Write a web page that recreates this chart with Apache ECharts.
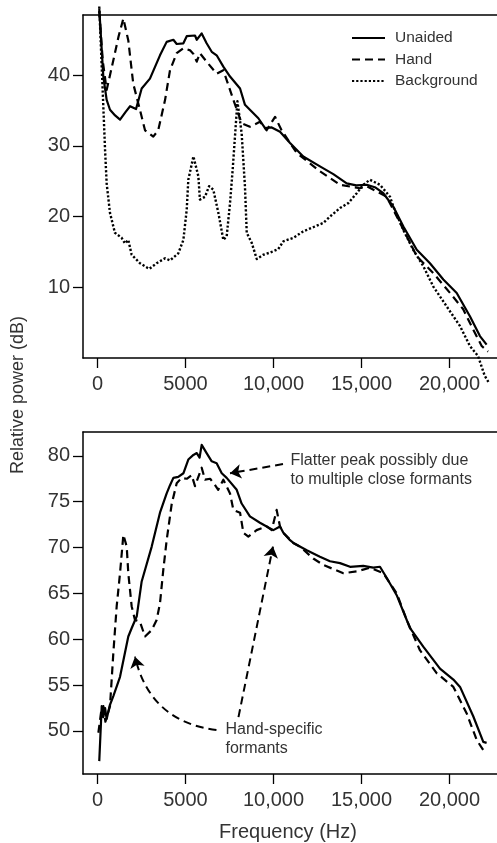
<!DOCTYPE html>
<html>
<head>
<meta charset="utf-8">
<script src="https://cdn.jsdelivr.net/npm/echarts@6/dist/echarts.min.js"></script>
<style>
html,body{margin:0;padding:0;background:#fff;}
#chart{width:497px;height:843px;}
</style>
</head>
<body>
<div id="chart"></div>
<script>
// ---- data (frequency Hz, relative power dB) ----
const seriesNames = ['Unaided', 'Hand', 'Background'];
const freqTicks = [0, 5000, 10000, 15000, 20000];
const topPowerTicks = [10, 20, 30, 40];
const bottomPowerTicks = [50, 55, 60, 65, 70, 75, 80];

const topUnaided = [[100,49.4],[330,39.8],[520,36.5],[710,35.1],[1000,34.3],[1280,33.7],[1600,34.8],[1850,35.6],[2190,35.2],[2510,38.1],[2980,39.5],[3550,42.8],[3930,44.7],[4310,45.0],[4500,44.4],[4880,44.5],[5070,45.5],[5540,45.6],[5640,45.0],[5920,45.9],[6200,44.5],[6490,43.3],[6770,42.8],[7150,41.2],[7530,39.8],[8100,38.1],[8380,35.8],[8660,35.1],[9140,33.9],[9520,32.5],[9900,32.6],[10370,32.0],[10940,30.4],[11690,28.5],[12640,27.1],[13400,26.0],[14160,24.7],[14700,24.4],[15300,24.5],[15800,24.1],[16240,23.3],[16810,21.4],[17380,18.6],[18140,15.3],[18890,13.4],[19650,11.1],[20410,9.2],[21160,5.9],[21730,3.1],[22110,1.9]];
const topHand = [[100,49.0],[300,42.0],[520,37.9],[900,42.1],[1200,45.5],[1470,48.0],[1750,44.9],[2030,38.8],[2410,35.1],[2700,32.2],[3170,31.3],[3450,32.2],[3840,36.5],[4120,40.7],[4500,43.1],[4880,43.8],[5260,43.5],[5450,43.0],[5640,41.9],[5820,43.1],[6200,41.9],[6770,40.2],[7150,40.7],[7340,39.3],[7720,36.5],[8190,33.2],[8660,32.7],[9230,33.4],[9610,32.2],[10090,34.1],[10460,32.2],[11320,29.0],[12640,26.4],[13780,24.5],[14910,24.0],[15300,24.3],[16430,22.8],[17190,19.1],[18140,14.4],[19080,12.0],[20030,9.2],[20780,6.9],[21350,4.0],[21830,1.7],[22190,0.9]];
const topBackground = [[100,49.7],[240,41.2],[430,29.4],[520,24.7],[710,20.5],[990,17.7],[1370,17.0],[1560,16.2],[1750,16.7],[1940,14.6],[2410,13.4],[2940,12.6],[3360,13.4],[3840,14.1],[4120,13.8],[4590,14.8],[4880,16.7],[5070,21.0],[5160,25.2],[5450,28.5],[5730,25.7],[5820,22.4],[6110,22.8],[6340,24.3],[6580,23.8],[6870,20.5],[7150,16.7],[7340,17.2],[7530,21.9],[7680,26.6],[7950,36.3],[8190,31.8],[8380,24.2],[8480,17.7],[8760,16.3],[9050,14.0],[9420,14.6],[9800,14.9],[10270,15.4],[10560,16.5],[11130,17.0],[11690,17.9],[12830,19.1],[13210,20.0],[13780,21.2],[14250,21.9],[14730,23.3],[15100,24.5],[15480,25.2],[16050,24.5],[16620,22.8],[16810,21.4],[17380,18.1],[17940,15.3],[18510,13.0],[19080,10.1],[19840,7.3],[20600,4.5],[21160,1.7],[21620,0.3],[22000,-2.5],[22240,-3.5]];

const bottomUnaided = [[100,46.7],[200,51.0],[240,52.7],[330,51.5],[430,52.5],[520,51.3],[700,52.8],[900,53.8],[1280,55.9],[1750,60.3],[1940,61.2],[2230,62.5],[2510,66.3],[3080,70.1],[3550,73.8],[3930,75.9],[4120,76.8],[4310,77.6],[4590,77.7],[4880,78.1],[5160,79.6],[5450,80.1],[5640,80.3],[5800,79.8],[5920,81.2],[6200,80.3],[6490,79.4],[6770,79.2],[7060,78.1],[7340,77.6],[7910,76.3],[8190,74.8],[8660,73.4],[9230,72.7],[9610,72.3],[9990,71.9],[10370,72.3],[10560,71.6],[10940,70.8],[11130,70.5],[11890,69.7],[12640,69.0],[13210,68.5],[13780,68.3],[14350,67.9],[15100,68.0],[15670,67.8],[16050,67.9],[16430,66.7],[17000,64.8],[17760,61.2],[18510,59.2],[19460,56.8],[20220,55.6],[20600,54.8],[21350,51.6],[21920,48.8],[22110,48.7]];
const bottomHand = [[50,49.8],[200,52.0],[330,52.7],[450,51.0],[710,52.7],[900,58.5],[1090,63.6],[1280,67.2],[1470,71.4],[1660,70.1],[1750,67.2],[1940,63.6],[2130,62.1],[2410,61.9],[2700,60.3],[3080,61.0],[3360,62.1],[3550,63.9],[3740,67.6],[3930,70.8],[4220,74.8],[4500,77.0],[4780,77.6],[5070,77.5],[5350,77.9],[5540,76.7],[5730,77.7],[5920,78.7],[6110,77.4],[6400,77.5],[6680,76.8],[6860,76.3],[7150,77.4],[7530,75.9],[7720,74.1],[8100,73.8],[8290,71.6],[8570,71.2],[9040,71.9],[9610,72.3],[9900,71.9],[10180,74.1],[10370,72.3],[10560,71.6],[11130,70.5],[11500,70.1],[12260,68.8],[12830,68.1],[13970,67.2],[14730,67.4],[15480,67.8],[16240,67.2],[17000,65.0],[17570,62.1],[18320,58.8],[19270,56.3],[20220,54.8],[20980,51.9],[21550,49.0],[21920,47.9]];

// annotation arrows (data coordinates of bottom panel): [from, to, curveness]
const annotationArrows = [
  [[10540, 79.1], [7530, 78.1], 0],
  [[8010, 51.5], [9970, 70.1], 0],
  [[6760, 50.1], [2130, 58.1], 0.35]
];
const annotationTexts = [
  ['Flatter peak possibly due', 'to multiple close formants'],
  ['Hand-specific', 'formants']
];

// ---- chart ----
const FONT = 'Liberation Sans, Arial, sans-serif';
const chart = echarts.init(document.getElementById('chart'), null, {renderer: 'canvas'});
const fmt = v => v >= 10000 ? String(v).replace(/\B(?=(\d{3})+(?!\d))/g, ',') : String(v);
const dashed = [8, 5];
const dotted = [2.2, 2.0];
const styles = {
  Unaided: {type: 'solid', width: 2.2},
  Hand: {type: dashed, width: 2.2},
  Background: {type: dotted, width: 2.4}
};

function xAxisMain(gridIndex) {
  return {
    type: 'value', gridIndex, min: -824, max: 22700, position: 'bottom',
    axisLine: {show: true, onZero: false, lineStyle: {color: '#000', width: 1.5}},
    axisTick: {show: true, length: 10, lineStyle: {color: '#000', width: 1.3}, customValues: freqTicks},
    axisLabel: {show: true, margin: 16, fontSize: 20, color: '#333', fontFamily: FONT, customValues: freqTicks, formatter: fmt},
    splitLine: {show: false}
  };
}
function xAxisTop(gridIndex) {
  return {
    type: 'value', gridIndex, min: -824, max: 22700, position: 'top',
    axisLine: {show: true, onZero: false, lineStyle: {color: '#000', width: 1.5}},
    axisTick: {show: false}, axisLabel: {show: false}, splitLine: {show: false}
  };
}
function yAxis(gridIndex, min, max, ticks) {
  return {
    type: 'value', gridIndex, min, max,
    axisLine: {show: true, onZero: false, lineStyle: {color: '#000', width: 1.5}},
    axisTick: {show: true, length: 10, lineStyle: {color: '#000', width: 1.3}, customValues: ticks},
    axisLabel: {show: true, margin: 13, fontSize: 20, color: '#333', fontFamily: FONT, customValues: ticks},
    splitLine: {show: false}
  };
}
function lineSeries(name, data, xi, yi) {
  return {
    type: 'line', name, data, xAxisIndex: xi, yAxisIndex: yi,
    symbol: 'none', smooth: false, clip: false, animation: false,
    lineStyle: {color: '#000', width: styles[name].width, type: styles[name].type, join: 'round'},
    itemStyle: {color: '#000'}
  };
}

const arrowSeries = {
  type: 'lines', name: 'annotations', coordinateSystem: 'cartesian2d',
  xAxisIndex: 2, yAxisIndex: 1, silent: true, animation: false, clip: false,
  symbol: ['none', 'arrow'], symbolSize: [8, 11],
  lineStyle: {color: '#000', width: 2, type: dashed, opacity: 1},
  data: annotationArrows.map(a => ({coords: [a[0], a[1]], lineStyle: {curveness: a[2]}}))
};

const textStyleA = {font: '16px ' + FONT, fill: '#333', textVerticalAlign: 'middle'};
const option = {
  backgroundColor: '#fff',
  animation: false,
  grid: [
    {left: 83, top: 15, width: 414, height: 343},
    {left: 83, top: 432, width: 414, height: 342}
  ],
  xAxis: [xAxisMain(0), xAxisTop(0), xAxisMain(1), xAxisTop(1)],
  yAxis: [yAxis(0, 0, 48.5, topPowerTicks), yAxis(1, 45.3, 82.6, bottomPowerTicks)],
  legend: {
    data: seriesNames, orient: 'vertical', left: 346, top: 25,
    itemWidth: 33, itemHeight: 14, itemGap: 5.5,
    itemStyle: {color: 'rgba(0,0,0,0)', borderWidth: 0, opacity: 0},
    textStyle: {fontSize: 15.5, color: '#333', fontFamily: FONT, padding: [0, 0, 0, 5]},
    selectedMode: false
  },
  series: [
    lineSeries('Unaided', topUnaided, 0, 0),
    lineSeries('Hand', topHand, 0, 0),
    lineSeries('Background', topBackground, 0, 0),
    lineSeries('Unaided', bottomUnaided, 2, 1),
    lineSeries('Hand', bottomHand, 2, 1),
    arrowSeries
  ],
  graphic: [
    {type: 'text', x: 18, y: 395, rotation: Math.PI / 2,
     style: {text: 'Relative power (dB)', font: '18px ' + FONT, fill: '#333', textAlign: 'center', textVerticalAlign: 'middle'}},
    {type: 'text', x: 288, y: 832,
     style: {text: 'Frequency (Hz)', font: '20px ' + FONT, fill: '#333', textAlign: 'center', textVerticalAlign: 'middle'}},
    {type: 'text', x: 290.5, y: 461, style: Object.assign({text: annotationTexts[0][0]}, textStyleA)},
    {type: 'text', x: 290.5, y: 479.5, style: Object.assign({text: annotationTexts[0][1]}, textStyleA)},
    {type: 'text', x: 225.5, y: 729.5, style: Object.assign({text: annotationTexts[1][0]}, textStyleA)},
    {type: 'text', x: 225.5, y: 748.5, style: Object.assign({text: annotationTexts[1][1]}, textStyleA)}
  ]
};
chart.setOption(option);
</script>
</body>
</html>
